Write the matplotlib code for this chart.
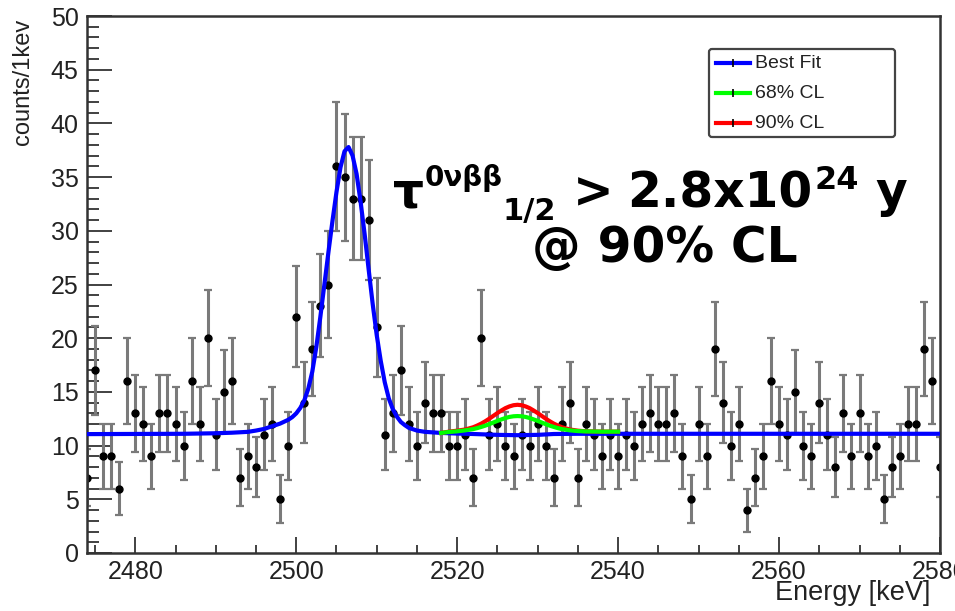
import numpy as np
import matplotlib
matplotlib.use("Agg")
import matplotlib.pyplot as plt
from matplotlib.ticker import MultipleLocator
from matplotlib.transforms import IdentityTransform
from matplotlib.patches import FancyBboxPatch
from matplotlib.lines import Line2D

plt.rcParams['font.family'] = ['Liberation Sans', 'DejaVu Sans']

# Data: counts per 1 keV bin
energy = np.arange(2474, 2581)
counts = [7, 17, 9, 9, 6, 16, 13, 12, 9, 13,
          13, 12, 10, 16, 12, 20, 11, 15, 16, 7,
          9, 8, 11, 12, 5, 10, 22, 14, 19, 23,
          25, 36, 35, 33, 33, 31, 21, 11, 13, 17,
          12, 10, 14, 13, 13, 10, 10, 11, 7, 20,
          11, 12, 10, 9, 11, 10, 12, 10, 7, 12,
          14, 7, 12, 11, 9, 11, 9, 11, 10, 12,
          13, 12, 12, 13, 9, 5, 12, 9, 19, 14,
          10, 12, 4, 7, 9, 16, 12, 11, 15, 10,
          9, 14, 11, 8, 13, 9, 13, 9, 10, 5,
          8, 9, 12, 12, 19, 16, 8]

# Best fit curve
fit_e = [2474, 2486, 2490, 2492, 2494, 2495, 2496, 2497, 2498, 2499, 2499.5,
         2500, 2500.5, 2501, 2501.5, 2502, 2502.5, 2503, 2503.5, 2504, 2504.5,
         2505, 2505.5, 2506, 2506.5, 2507, 2507.5, 2508, 2508.5, 2509, 2509.5,
         2510, 2510.5, 2511, 2511.5, 2512, 2512.5, 2513, 2513.5, 2514, 2515,
         2516, 2518, 2520, 2522, 2525, 2527.5, 2530, 2532, 2535, 2580]
fit_v = [11.07, 11.1, 11.15, 11.2, 11.28, 11.4, 11.55, 11.8, 12.05, 12.4, 12.65,
         13.0, 13.5, 14.2, 15.3, 16.9, 19.2, 22.0, 25.0, 28.0, 30.9,
         33.6, 35.9, 37.4, 37.8, 37.0, 35.3, 32.7, 29.7, 26.4, 23.2,
         20.3, 17.9, 15.9, 14.4, 13.4, 12.7, 12.2, 11.9, 11.65, 11.4,
         11.28, 11.18, 11.12, 11.08, 11.0, 10.97, 11.0, 11.08, 11.1, 11.1]

# 68% and 90% CL curves
cl_e = [2518, 2519, 2520, 2521, 2522, 2522.5, 2523, 2523.5, 2524, 2524.5, 2525,
        2525.5, 2526, 2526.5, 2527, 2527.5, 2528, 2528.5, 2529, 2529.5, 2530,
        2530.5, 2531, 2531.5, 2532, 2532.5, 2533, 2534, 2535, 2536, 2538, 2540]
cl90_v = [11.18, 11.3, 11.39, 11.5, 11.71, 11.87, 12.05, 12.27, 12.51, 12.77, 13.03,
          13.27, 13.49, 13.65, 13.76, 13.8, 13.76, 13.65, 13.49, 13.27, 13.03,
          12.77, 12.51, 12.27, 12.05, 11.87, 11.71, 11.5, 11.39, 11.33, 11.3, 11.3]
cl68_v = [11.18, 11.27, 11.33, 11.42, 11.54, 11.63, 11.74, 11.86, 12.0, 12.15, 12.3,
          12.44, 12.57, 12.67, 12.73, 12.75, 12.73, 12.67, 12.57, 12.44, 12.3,
          12.15, 12.0, 11.86, 11.74, 11.63, 11.54, 11.42, 11.35, 11.32, 11.3, 11.3]

legend_labels = ['Best Fit', '68% CL', '90% CL']
legend_colors = ['#0000ff', '#00ff00', '#ff0000']

W, H = 955, 611
fig = plt.figure(figsize=(W / 100, H / 100), dpi=100)
ax = fig.add_axes([87 / W, 58 / H, 853 / W, 537 / H])

ax.errorbar(energy, counts, yerr=np.sqrt(counts), fmt='o', color='black',
            ms=5, ecolor='#7a7a7a', elinewidth=2.2, capsize=3, capthick=1.6,
            zorder=2)
ax.plot(fit_e, fit_v, color='#0000ff', lw=3, zorder=3, solid_joinstyle='round')
ax.plot(cl_e, cl90_v, color='#ff0000', lw=3, zorder=4, solid_joinstyle='round')
ax.plot(cl_e, cl68_v, color='#00ff00', lw=3, zorder=5, solid_joinstyle='round')

ax.set_xlim(2474, 2580)
ax.set_ylim(0, 50)
ax.xaxis.set_major_locator(MultipleLocator(20))
ax.xaxis.set_minor_locator(MultipleLocator(5))
ax.yaxis.set_major_locator(MultipleLocator(5))
ax.yaxis.set_minor_locator(MultipleLocator(1))

for s in ax.spines.values():
    s.set_linewidth(1.8)
    s.set_color('#333333')
ax.tick_params(axis='both', which='both', direction='in', colors='#333333',
               labelcolor='#222222', labelsize=18, width=1.3)
ax.tick_params(axis='x', which='major', length=11.5, pad=5)
ax.tick_params(axis='x', which='minor', length=5.8)
ax.tick_params(axis='y', which='major', length=18, pad=6)
ax.tick_params(axis='y', which='minor', length=8.6)

ax.set_xlabel('Energy [keV]', fontsize=19.5, color='#222222', loc='right')
ax.xaxis.set_label_coords((930 - 87) / 853, -0.05)
ax.set_ylabel('counts/1kev', fontsize=17, color='#222222', loc='top')
ax.yaxis.set_label_coords(-0.062, 0.995)

# Legend drawn by hand to match the wide ROOT box
px = IdentityTransform()
box = FancyBboxPatch((709, H - 137), 186, 88,
                     boxstyle='round,pad=0,rounding_size=3', transform=px,
                     facecolor='white', edgecolor='#444444', lw=1.6, zorder=10)
fig.add_artist(box)
for i, (lab, col) in enumerate(zip(legend_labels, legend_colors)):
    yy = H - (63 + 30 * i)
    fig.add_artist(Line2D([716, 750], [yy, yy], color=col, lw=3,
                          transform=px, zorder=11))
    fig.add_artist(Line2D([733], [yy], marker='|', color='black', ms=6,
                          mew=1.2, transform=px, zorder=12))
    fig.text(755, yy, lab, fontsize=14, color='#222222', va='center',
             ha='left', transform=px, zorder=12)

# Half-life limit annotation
fig.canvas.draw()
r = fig.canvas.get_renderer()


def put(s, x, y, size):
    t = fig.text(x, H - y, s, fontsize=size, fontweight='bold',
                 family='DejaVu Sans', color='black', ha='left',
                 va='baseline', transform=px, zorder=12)
    return t.get_window_extent(renderer=r).x1


x = put('τ', 393, 207, 35)
x = put('0νββ', x + 1, 186, 20)
x = put('1/2', x, 220, 22)
x = put('>', x + 16, 207, 35)
x = put('2.8x10', x + 14, 207, 35)
x = put('24', x + 2, 189, 23)
put('y', x + 16, 207, 35)
fig.text(665, H - 262, '@ 90% CL', fontsize=35, fontweight='bold',
         family='DejaVu Sans', ha='center', va='baseline', transform=px)

fig.savefig('out.png', dpi=100)
